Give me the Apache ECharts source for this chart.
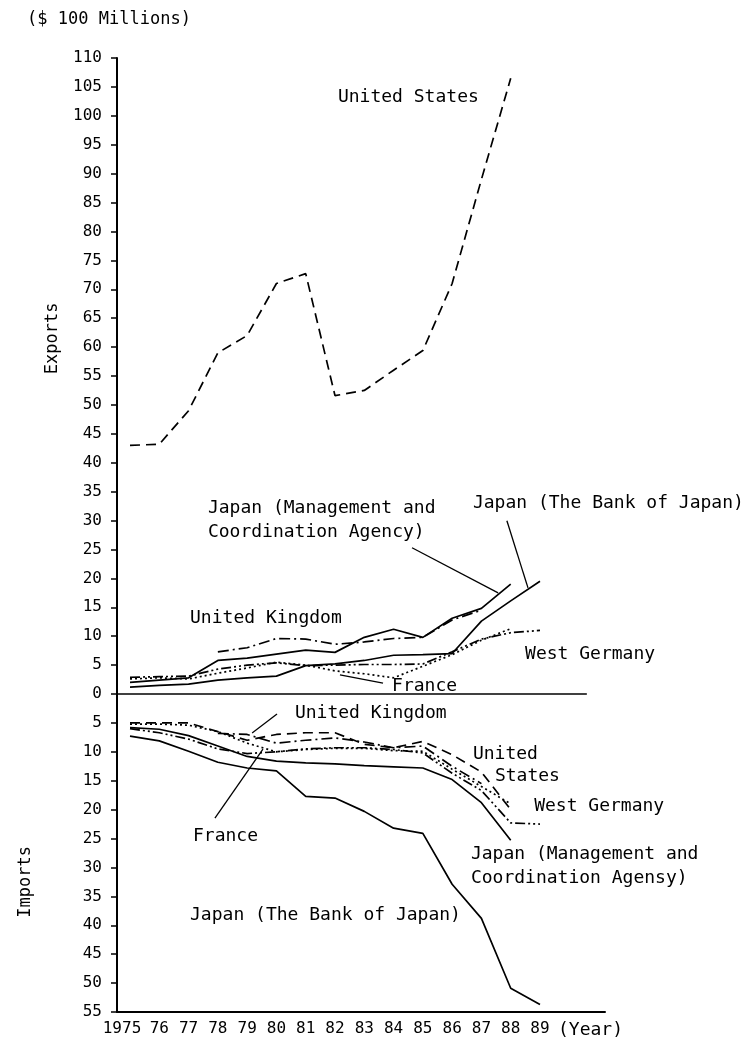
<!DOCTYPE html>
<html><head><meta charset="utf-8">
<script src="https://cdn.jsdelivr.net/npm/echarts@6/dist/echarts.min.js"></script>
<style>html,body{margin:0;padding:0;background:#fff}#c{width:746px;height:1044px}</style>
</head><body><div id="c"></div>
<script>
// ---- data (values in $100 millions; imports stored as positive magnitudes) ----
const years = [1975,1976,1977,1978,1979,1980,1981,1982,1983,1984,1985,1986,1987,1988,1989];
const xTickLabels = ['1975','76','77','78','79','80','81','82','83','84','85','86','87','88','89'];

const expUS          = [43.0,43.2,49.0,59.0,62.0,71.0,72.7,51.6,52.5,56.0,59.4,71.0,89.0,106.5,null];
const expJapanMCA    = [2.0,2.4,2.8,5.8,6.2,6.9,7.6,7.2,9.8,11.2,9.8,13.1,14.8,19.0,null];
const expJapanBOJ    = [1.2,1.5,1.7,2.4,2.8,3.1,4.9,5.2,5.8,6.7,6.8,7.0,12.6,16.1,19.5];
const expUK          = [null,null,null,7.3,8.0,9.6,9.5,8.6,9.0,9.6,9.8,12.8,14.5,null,null];
const expWestGermany = [2.9,3.0,3.1,4.3,5.0,5.4,4.9,5.0,5.1,5.1,5.2,7.3,9.5,10.6,11.0];
const expFrance      = [2.6,2.8,2.6,3.6,4.5,5.5,5.0,4.0,3.5,2.8,4.8,6.8,9.3,11.3,null];

const impUS          = [5.0,5.0,5.0,6.5,8.0,7.0,6.7,6.7,8.7,9.3,8.2,10.5,13.5,20.0,null];
const impJapanMCA    = [5.8,6.1,7.2,9.0,10.8,11.6,11.9,12.1,12.4,12.6,12.8,14.8,18.8,25.3,null];
const impJapanBOJ    = [7.3,8.1,9.9,11.8,12.8,13.3,17.7,18.0,20.3,23.2,24.1,32.9,38.8,50.9,53.7];
const impUK          = [null,null,null,6.8,7.0,8.5,8.0,7.6,8.3,9.3,9.0,12.5,15.5,null,null];
const impWestGermany = [6.0,6.7,7.8,9.5,10.3,10.0,9.5,9.3,9.3,9.6,10.2,13.7,16.7,22.3,22.5];
const impFrance      = [5.2,5.2,5.4,6.5,8.5,10.0,9.6,9.4,9.4,9.8,9.9,13.0,16.0,19.0,null];

const FONT = 'DejaVu Sans Mono';
const DASH = [10,6], DASHDOT = [11,4,2,4], DASHDOT2 = [10,3,2,3,2,3], DOT = [2,3];

function pairs(arr, sign){
  const out=[]; years.forEach((y,i)=>{ if(arr[i]!=null) out.push([y, sign*arr[i]]); }); return out;
}
function line(name, arr, sign, dash, extra){
  return Object.assign({
    name, type:'line', data:pairs(arr,sign), symbol:'none', silent:true, animation:false,
    lineStyle:{color:'#000', width:1.7, type:dash}
  }, extra||{});
}

const chart = echarts.init(document.getElementById('c'), null, {renderer:'canvas'});
chart.setOption({
  backgroundColor:'#fff',
  animation:false,
  grid:{left:117, top:58, right:141, bottom:32},
  xAxis:{
    type:'value', min:1974.556, max:1991.22,
    axisLine:{onZero:false, lineStyle:{color:'#000', width:2}},
    axisTick:{show:false},
    splitLine:{show:false},
    axisLabel:{customValues:years, color:'#000', fontFamily:FONT, fontSize:16, margin:9,
      formatter:v=>{ const i = years.indexOf(Math.round(v)); return i===0 ? '{s|'+xTickLabels[0]+'}' : (xTickLabels[i]||''); },
      rich:{s:{color:'#000', fontFamily:FONT, fontSize:16, padding:[0,16,0,0]}}},
    name:'(Year)', nameLocation:'end', nameGap:-47,
    nameTextStyle:{color:'#000', fontFamily:FONT, fontSize:18, align:'left', verticalAlign:'top', padding:[9,0,0,0]}
  },
  yAxis:{
    type:'value', min:-55, max:110, interval:5,
    axisLine:{show:true, lineStyle:{color:'#000', width:2}},
    axisTick:{show:true, length:6, lineStyle:{color:'#000', width:1.5}},
    splitLine:{show:false},
    axisLabel:{color:'#000', fontFamily:FONT, fontSize:16, margin:15, formatter:v=>String(Math.abs(v))},
    name:'($ 100 Millions)', nameLocation:'end', nameGap:30,
    nameTextStyle:{color:'#000', fontFamily:FONT, fontSize:17, padding:[0,16,0,0]}
  },
  series:[
    line('Exports United States', expUS, 1, DASH, {
      markLine:{silent:true, symbol:'none', label:{show:false}, animation:false,
        lineStyle:{color:'#000', width:1.7, type:'solid'},
        data:[[{coord:[1974.556,0]},{coord:[1990.6,0]}]]}
    }),
    line('Exports Japan MCA', expJapanMCA, 1, 'solid'),
    line('Exports Japan BOJ', expJapanBOJ, 1, 'solid'),
    line('Exports United Kingdom', expUK, 1, DASHDOT),
    line('Exports West Germany', expWestGermany, 1, DASHDOT2),
    line('Exports France', expFrance, 1, DOT),
    line('Imports United States', impUS, -1, DASH),
    line('Imports Japan MCA', impJapanMCA, -1, 'solid'),
    line('Imports Japan BOJ', impJapanBOJ, -1, 'solid'),
    line('Imports United Kingdom', impUK, -1, DASHDOT),
    line('Imports West Germany', impWestGermany, -1, DASHDOT2),
    line('Imports France', impFrance, -1, DOT)
  ]
});

// ---- annotations positioned in data coordinates ----
const labels = [
  ['United States', 1982.10, 103.2],
  ['Japan (Management and\nCoordination Agency)', 1977.66, 30.0],
  ['Japan (The Bank of Japan)', 1986.71, 32.9],
  ['United Kingdom', 1977.05, 13.16],
  ['West Germany', 1988.49, 6.93],
  ['France', 1983.95, 1.39],
  ['United Kingdom', 1980.63, -3.29],
  ['United', 1986.71, -10.39],
  ['States', 1987.46, -14.20],
  ['West Germany', 1988.80, -19.40],
  ['Japan (Management and\nCoordination Agensy)', 1986.64, -29.79],
  ['France', 1977.15, -24.6],
  ['Japan (The Bank of Japan)', 1977.05, -38.28]
];
const leaders = [
  [1984.63, 25.29, 1987.57, 17.5],
  [1987.87, 29.97, 1988.59, 18.36],
  [1983.64, 1.90, 1982.17, 3.30],
  [1980.02, -3.46, 1979.17, -6.76],
  [1977.90, -21.48, 1979.54, -9.53]
];
const toPx = (x,y)=>chart.convertToPixel({gridIndex:0},[x,y]);
const g = [];
labels.forEach(([t,x,y])=>{
  const p = toPx(x,y);
  g.push({type:'text', x:p[0], y:p[1], silent:true,
    style:{text:t, fill:'#000', font:'18px "'+FONT+'"', textAlign:'left', textVerticalAlign:'middle', lineHeight:24}});
});
leaders.forEach(([x1,y1,x2,y2])=>{
  const a = toPx(x1,y1), b = toPx(x2,y2);
  g.push({type:'line', silent:true, shape:{x1:a[0],y1:a[1],x2:b[0],y2:b[1]}, style:{stroke:'#000', lineWidth:1.3}});
});
const ex = toPx(1974.556, 61.5), im = toPx(1974.556, -32.5);
g.push({type:'text', x:53, y:ex[1], rotation:Math.PI/2, silent:true,
  style:{text:'Exports', fill:'#000', font:'17px "'+FONT+'"', textAlign:'center', textVerticalAlign:'middle'}});
g.push({type:'text', x:26, y:im[1], rotation:Math.PI/2, silent:true,
  style:{text:'Imports', fill:'#000', font:'17px "'+FONT+'"', textAlign:'center', textVerticalAlign:'middle'}});
chart.setOption({graphic:g});
</script></body></html>
